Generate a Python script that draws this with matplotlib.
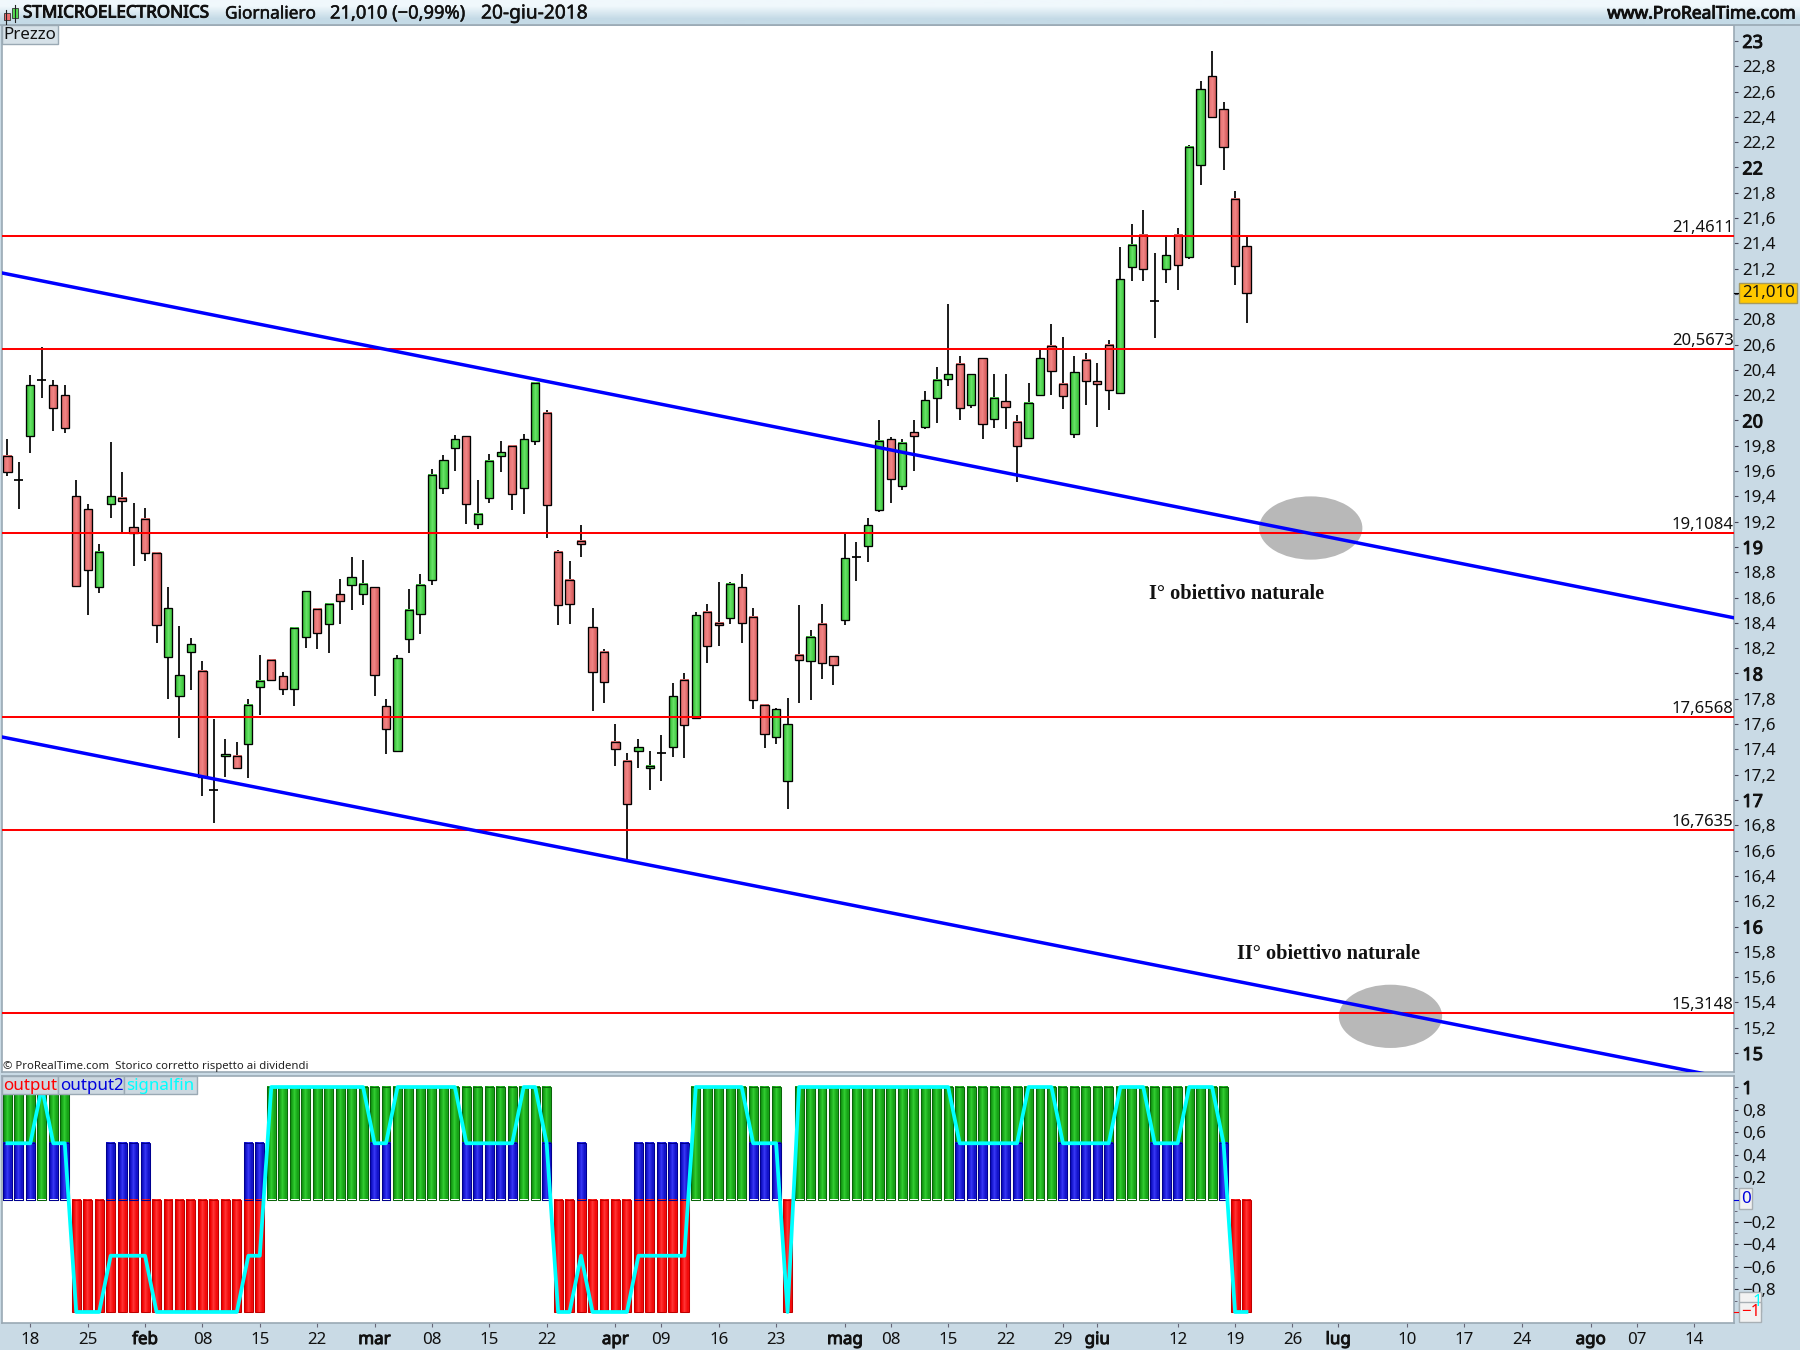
import numpy as np
import matplotlib
matplotlib.use('Agg')
import matplotlib.pyplot as plt
from matplotlib.patches import Ellipse, Rectangle
from matplotlib.patheffects import withStroke

plt.rcParams['font.family'] = ['Noto Sans', 'DejaVu Sans']

# candles, one value per trading day from 16 jan to 20 jun 2018
opens = [19.72, 19.53, 19.88, 20.32, 20.28, 20.20, 19.40, 19.30, 18.68, 19.34,
         19.39, 19.155, 19.22, 18.95, 18.13, 17.82, 18.17, 18.02, 17.08, 17.345,
         17.345, 17.44, 17.89, 18.11, 17.98, 17.875, 18.29, 18.51, 18.39, 18.625,
         18.70, 18.625, 18.68, 17.74, 17.39, 18.27, 18.47, 18.74, 19.47, 19.78,
         19.875, 19.18, 19.385, 19.72, 19.80, 19.47, 19.835, 20.06, 18.96, 18.74,
         19.045, 18.365, 18.17, 17.46, 17.31, 17.39, 17.25, 17.37, 17.42, 17.95,
         17.65, 18.49, 18.40, 18.44, 18.68, 18.45, 17.75, 17.50, 17.15, 18.15,
         18.10, 18.39, 18.14, 18.42, 18.92, 19.01, 19.29, 19.85, 19.48, 19.91,
         19.95, 20.175, 20.33, 20.45, 20.12, 20.49, 20.01, 20.15, 19.99, 19.86,
         20.20, 20.59, 20.29, 19.89, 20.48, 20.31, 20.60, 20.22, 21.21, 21.47,
         20.945, 21.20, 21.47, 21.29, 22.02, 22.72, 22.46, 21.75, 21.38]
highs = [19.85, 19.67, 20.36, 20.58, 20.32, 20.28, 19.53, 19.34, 19.02, 19.83,
         19.59, 19.35, 19.31, 18.95, 18.68, 18.375, 18.28, 18.10, 17.64, 17.48,
         17.46, 17.80, 18.15, 18.11, 18.01, 18.37, 18.65, 18.51, 18.55, 18.75,
         18.92, 18.90, 18.68, 17.80, 18.15, 18.67, 18.79, 19.62, 19.73, 19.885,
         19.875, 19.53, 19.735, 19.84, 19.80, 19.89, 20.30, 20.08, 18.98, 18.89,
         19.17, 18.52, 18.19, 17.60, 17.37, 17.48, 17.39, 17.51, 17.925, 18.00,
         18.49, 18.55, 18.72, 18.72, 18.79, 18.52, 17.75, 17.73, 17.81, 18.54,
         18.34, 18.55, 18.14, 19.10, 19.04, 19.23, 20.00, 19.87, 19.85, 20.00,
         20.23, 20.42, 20.92, 20.51, 20.37, 20.49, 20.37, 20.37, 20.04, 20.30,
         20.56, 20.76, 20.66, 20.51, 20.53, 20.455, 20.64, 21.37, 21.55, 21.66,
         21.32, 21.47, 21.52, 22.18, 22.68, 22.92, 22.52, 21.81, 21.46]
lows = [19.56, 19.30, 19.74, 20.18, 19.92, 19.90, 18.69, 18.46, 18.64, 19.23,
        19.12, 18.85, 18.89, 18.24, 17.80, 17.49, 17.87, 17.03, 16.82, 17.18,
        17.25, 17.17, 17.67, 17.95, 17.83, 17.74, 18.20, 18.19, 18.16, 18.39,
        18.50, 18.54, 17.82, 17.36, 17.39, 18.16, 18.31, 18.70, 19.42, 19.60,
        19.18, 19.145, 19.35, 19.59, 19.29, 19.26, 19.81, 19.07, 18.38, 18.39,
        18.92, 17.70, 17.77, 17.27, 16.52, 17.255, 17.08, 17.15, 17.34, 17.33,
        17.64, 18.085, 18.22, 18.39, 18.24, 17.72, 17.41, 17.445, 16.93, 17.77,
        17.79, 17.96, 17.91, 18.38, 18.73, 18.88, 19.28, 19.35, 19.45, 19.60,
        19.93, 19.98, 20.27, 20.00, 20.10, 19.85, 19.94, 19.93, 19.51, 19.86,
        20.20, 20.20, 20.09, 19.86, 20.12, 19.95, 20.08, 20.22, 21.105, 21.10,
        20.655, 21.09, 21.03, 21.28, 21.86, 22.39, 21.98, 21.07, 20.77]
closes = [19.59, 19.53, 20.28, 20.32, 20.10, 19.94, 18.69, 18.82, 18.96, 19.40,
          19.36, 19.11, 18.95, 18.38, 18.515, 17.985, 18.23, 17.18, 17.08, 17.36,
          17.25, 17.75, 17.94, 17.95, 17.88, 18.36, 18.65, 18.32, 18.55, 18.57,
          18.76, 18.71, 17.99, 17.56, 18.12, 18.50, 18.70, 19.57, 19.685, 19.85,
          19.34, 19.26, 19.68, 19.75, 19.42, 19.85, 20.30, 19.33, 18.54, 18.55,
          19.02, 18.01, 17.93, 17.40, 16.97, 17.42, 17.27, 17.37, 17.82, 17.59,
          18.46, 18.215, 18.38, 18.71, 18.40, 17.79, 17.52, 17.72, 17.60, 18.11,
          18.29, 18.08, 18.07, 18.91, 18.92, 19.17, 19.84, 19.535, 19.82, 19.88,
          20.16, 20.32, 20.365, 20.10, 20.365, 19.97, 20.18, 20.11, 19.80, 20.14,
          20.49, 20.39, 20.19, 20.38, 20.31, 20.29, 20.24, 21.12, 21.39, 21.20,
          20.945, 21.31, 21.23, 22.16, 22.62, 22.40, 22.16, 21.22, 21.01]

# horizontal levels
levels = [21.4611, 20.5673, 19.1084, 17.6568, 16.7635, 15.3148]
level_labels = ['21,4611', '20,5673', '19,1084', '17,6568', '16,7635', '15,3148']

# channel lines, price at the left and right edge of the panel
upper_line = [21.166, 18.44]
lower_line = [17.498, 14.79]

# indicator
signalfin = [.5, .5, .5, 1, .5, .5, -1, -1, -1, -.5, -.5, -.5, -.5,
             -1, -1, -1, -1, -1, -1, -1, -1, -.5, -.5,
             1, 1, 1, 1, 1, 1, 1, 1, 1, .5, .5, 1, 1, 1, 1, 1, 1,
             .5, .5, .5, .5, .5, 1, 1, .5, -1, -1, -.5, -1, -1, -1, -1,
             -.5, -.5, -.5, -.5, -.5, 1, 1, 1, 1, 1, .5, .5, .5, -1,
             1, 1, 1, 1, 1, 1, 1, 1, 1, 1, 1, 1, 1, 1,
             .5, .5, .5, .5, .5, .5, 1, 1, 1, .5, .5, .5, .5, .5,
             1, 1, 1, .5, .5, .5, 1, 1, 1, .5, -1, -1]
output = [1 if s > 0 else -1 for s in signalfin]
output2 = [.5 if abs(s) == .5 else 0 for s in signalfin]

# axis ticks
x_pos = [2, 7, 12, 17, 22, 27, 32, 37, 42, 47, 53, 57, 62, 67, 73, 77, 82, 87, 92,
         95, 102, 107, 112, 116, 122, 127, 132, 138, 142, 147]
x_labels = ['18', '25', 'feb', '08', '15', '22', 'mar', '08', '15', '22', 'apr', '09',
            '16', '23', 'mag', '08', '15', '22', '29', 'giu', '12', '19', '26', 'lug',
            '10', '17', '24', 'ago', '07', '14']
months = ['feb', 'mar', 'apr', 'mag', 'giu', 'lug', 'ago']
price_ticks = [15, 15.2, 15.4, 15.6, 15.8, 16, 16.2, 16.4, 16.6, 16.8, 17, 17.2, 17.4, 17.6,
               17.8, 18, 18.2, 18.4, 18.6, 18.8, 19, 19.2, 19.4, 19.6, 19.8, 20, 20.2, 20.4,
               20.6, 20.8, 21, 21.2, 21.4, 21.6, 21.8, 22, 22.2, 22.4, 22.6, 22.8, 23]
ind_ticks = [-.8, -.6, -.4, -.2, .2, .4, .6, .8, 1]
ind_labels = ['\u22120,8', '\u22120,6', '\u22120,4', '\u22120,2', '0,2', '0,4', '0,6', '0,8', '1']

W, H = 1800, 1350
BG = '#c9dae5'
FRAME = '#9aa9b4'
INK = '#111111'
FS = 12.2
BOLD = [withStroke(linewidth=.7, foreground=INK)]

fig = plt.figure(figsize=(18, 13.5), dpi=100, facecolor=BG)


def panel(x0, x1, y0, y1):
    return fig.add_axes([x0 / W, 1 - y1 / H, (x1 - x0) / W, (y1 - y0) / H])


def grad(ax, x0, x1, y0, y1, cols, z, vertical=False):
    rgb = np.array([matplotlib.colors.to_rgb(c) for c in cols])
    img = rgb[:, None, :] if vertical else rgb[None, :, :]
    ax.imshow(img, extent=[x0, x1, y0, y1], aspect='auto', interpolation='bilinear', zorder=z)


main = panel(2, 1734, 25, 1072)
ind = panel(2, 1734, 1076, 1323)
xlim = (-0.47, 150.49)

# price panel
main.add_patch(Ellipse((113.6, 19.15), 9, 0.5, color='#b8b8b8', lw=0, zorder=1))
main.add_patch(Ellipse((120.55, 15.29), 9, 0.5, color='#b8b8b8', lw=0, zorder=1))

for i, (o, h, l, c) in enumerate(zip(opens, highs, lows, closes)):
    main.plot([i, i], [l, h], color='black', lw=1.25, solid_capstyle='butt', zorder=2)
    if o == c:
        main.plot([i - .4, i + .4], [o, o], color='black', lw=1.25, solid_capstyle='butt', zorder=2)
        continue
    top, bot = max(o, c), min(o, c)
    cols = ['#3cc43c', '#66e266', '#44cc44'] if c > o else ['#e87474', '#f08484', '#dc6464']
    grad(main, i - .36, i + .36, bot, top, cols, 2.1)
    main.add_patch(Rectangle((i - .36, bot), .72, top - bot, fc='none', ec='black', lw=.95, zorder=2.2))

for lev, lab in zip(levels, level_labels):
    main.axhline(lev, color='#ff0000', lw=1.45, zorder=3)
    main.text(xlim[1] - .03, lev + .03, lab, ha='right', va='baseline', fontsize=12, color=INK, zorder=6)

main.plot(xlim, upper_line, color='#0000ff', lw=2.5, zorder=4)
main.plot(xlim, lower_line, color='#0000ff', lw=2.5, zorder=4)

main.text(99.5, 18.59, 'I\u00b0 obiettivo naturale', family='Liberation Serif', weight='bold',
          fontsize=14.6, color=INK, va='baseline')
main.text(107.15, 15.74, 'II\u00b0 obiettivo naturale', family='Liberation Serif', weight='bold',
          fontsize=14.6, color=INK, va='baseline')

main.set_xlim(xlim)
main.set_ylim(14.85, 23.126)
main.set_xticks([])
main.yaxis.tick_right()
main.set_yticks(price_ticks)
# the 21 label sits behind the last price box in the reference
main.set_yticklabels(['' if t == 21 else str(int(t)) if t == int(t) else str(t).replace('.', ',')
                      for t in price_ticks])
main.tick_params(axis='y', length=3, width=.8, color='#445', pad=3, labelsize=FS, labelcolor=INK)
for t, lab in zip(price_ticks, main.get_yticklabels()):
    if t == int(t):
        lab.set_path_effects(BOLD)
        lab.set_fontsize(FS + .8)

# indicator panel
for i, (a, b) in enumerate(zip(output, output2)):
    if a > 0:
        grad(ind, i - .39, i + .39, 0, 1, ['#149a14', '#30cc30', '#18a418'], 2)
        ind.add_patch(Rectangle((i - .39, 0), .78, 1, fc='none', ec='#0a650a', lw=.75, zorder=2.1))
    else:
        grad(ind, i - .39, i + .39, -1, 0, ['#f00000', '#ff3434', '#f40c0c'], 2)
        ind.add_patch(Rectangle((i - .39, -1), .78, 1, fc='none', ec='#c00000', lw=.75, zorder=2.1))
    if b > 0:
        grad(ind, i - .39, i + .39, 0, b, ['#1010c4', '#3636f4', '#1414cc'], 3)
        ind.add_patch(Rectangle((i - .39, 0), .78, b, fc='none', ec='#000090', lw=.75, zorder=3.1))

ind.plot(range(len(signalfin)), signalfin, color='#00ffff', lw=2.7, zorder=4)

ind.set_xlim(xlim)
ind.set_ylim(-1.098, 1.098)
ind.yaxis.tick_right()
ind.set_yticks(ind_ticks)
ind.set_yticklabels(ind_labels)
ind.set_yticks(np.arange(-1, 1.01, .1), minor=True)
ind.tick_params(axis='y', which='major', length=3, width=.8, color='#445', pad=3, labelsize=FS, labelcolor=INK)
ind.tick_params(axis='y', which='minor', length=2, width=.7, color='#667')
ind.get_yticklabels()[-1].set_path_effects(BOLD)
ind.get_yticklabels()[-1].set_fontsize(FS + .8)
ind.set_xticks(x_pos)
ind.set_xticklabels(x_labels)
ind.tick_params(axis='x', length=3, width=.8, color='#667', pad=3.5, labelsize=FS, labelcolor=INK)
for lab in ind.get_xticklabels():
    if lab.get_text() in months:
        lab.set_path_effects(BOLD)

for ax in (main, ind):
    for s in ax.spines.values():
        s.set_color(FRAME)
        s.set_linewidth(1.2)

# window furniture, drawn in pixel coordinates over the panels
over = fig.add_axes([0, 0, 1, 1], zorder=10)
over.patch.set_alpha(0)
over.axis('off')

grad(over, 0, W, 25, 0, ['#f0f8fc', '#c4dae6'], 0, vertical=True)
over.plot([0, W], [25, 25], color=FRAME, lw=1.2)

over.plot([6, 6], [10, 24], color='#222222', lw=.8)
over.add_patch(Rectangle((3.5, 13), 6, 6.5, fc='#ee7070', ec='#333333', lw=.6))
over.plot([15, 15], [5, 22], color='#222222', lw=.8)
over.add_patch(Rectangle((12, 8), 6, 9.5, fc='#55dd55', ec='#333333', lw=.6))

over.text(23, 13.5, 'STMICROELECTRONICS', fontsize=12.3, va='center', color=INK, path_effects=BOLD)
over.text(225, 13.5, 'Giornaliero', fontsize=12.4, va='center', color=INK,
          path_effects=[withStroke(linewidth=.35, foreground=INK)])
over.text(330, 13.5, '21,010 (\u22120,99%)', fontsize=13.2, va='center', color=INK,
          path_effects=[withStroke(linewidth=.35, foreground=INK)])
over.text(481, 13.5, '20-giu-2018', fontsize=13.8, va='center', color=INK,
          path_effects=[withStroke(linewidth=.35, foreground=INK)])
over.text(1796, 13.5, 'www.ProRealTime.com', fontsize=12.5, va='center', ha='right', color=INK, path_effects=BOLD)

over.add_patch(Rectangle((2, 25), 56, 19, fc='#d6e1e8', ec=FRAME, lw=1))
over.text(3, 35, 'Prezzo', fontsize=12.2, va='center', color=INK)
over.text(3, 1066.5, '\u00a9 ProRealTime.com  Storico corretto rispetto ai dividendi', fontsize=8.2,
          va='center', color='#222222')

for x0, x1, txt, col, dx in [(2, 58, 'output', '#ff0000', 1), (58, 124, 'output2', '#0000dd', 2),
                             (124, 197, 'signalfin', '#00ffff', 2)]:
    over.add_patch(Rectangle((x0, 1076), x1 - x0, 18, fc='#ccd8e0', ec=FRAME, lw=1))
    over.text(x0 + dx, 1086.5, txt, color=col, fontsize=12.2, va='center')

# last values on the scale
over.plot([1734, 1738], [293, 293], color='black', lw=.8)
over.add_patch(Rectangle((1739, 283), 58, 20, fc='#ffc800', ec='#a59a60', lw=1))
over.text(1742, 293, '21,010', fontsize=FS, va='center', color=INK)
over.plot([1734, 1738], [1199.5, 1199.5], color='#0000dd', lw=.8)
over.add_patch(Rectangle((1739, 1188), 13, 21, fc='#f2f2f2', ec='#a8b0b5', lw=1))
over.text(1741, 1199, '0', fontsize=FS, va='center', color='#0000dd')
over.add_patch(Rectangle((1739, 1292), 22, 20, fc='#f2f2f2', ec='#a8b0b5', lw=1))
over.text(1752, 1302, '1', fontsize=FS, va='center', color='#00ffff')
over.plot([1734, 1738], [1312, 1312], color='#ff0000', lw=.8)
over.add_patch(Rectangle((1739, 1302), 22, 20, fc='#f2f2f2', ec='#a8b0b5', lw=1))
over.text(1741, 1312, '\u22121', fontsize=FS, va='center', color='#ff0000')

over.set_xlim(0, W)
over.set_ylim(H, 0)

fig.savefig('out.png', dpi=100, facecolor=BG)
